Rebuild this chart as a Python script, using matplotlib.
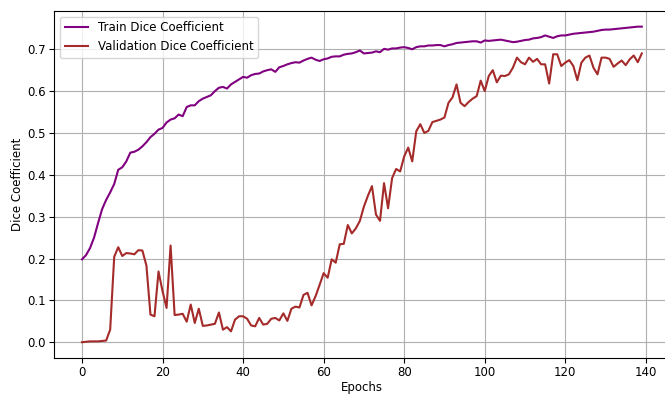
import matplotlib
matplotlib.use("Agg")
import matplotlib.pyplot as plt

epochs = list(range(140))

train_dice = [
    0.198, 0.208, 0.225, 0.250, 0.285, 0.318, 0.340, 0.358, 0.378, 0.412,
    0.418, 0.432, 0.453, 0.455, 0.460, 0.468, 0.478, 0.490, 0.498, 0.508,
    0.512, 0.525, 0.532, 0.535, 0.544, 0.540, 0.562, 0.566, 0.566, 0.576,
    0.582, 0.586, 0.590, 0.600, 0.608, 0.610, 0.606, 0.616, 0.622, 0.628,
    0.634, 0.632, 0.638, 0.641, 0.642, 0.647, 0.650, 0.652, 0.646, 0.657,
    0.660, 0.664, 0.667, 0.669, 0.668, 0.673, 0.677, 0.680, 0.675, 0.672,
    0.676, 0.678, 0.682, 0.683, 0.683, 0.687, 0.689, 0.690, 0.693, 0.697,
    0.690, 0.691, 0.692, 0.695, 0.693, 0.701, 0.699, 0.702, 0.702, 0.704,
    0.705, 0.703, 0.700, 0.705, 0.707, 0.707, 0.709, 0.709, 0.710, 0.710,
    0.707, 0.710, 0.712, 0.715, 0.716, 0.717, 0.718, 0.719, 0.719, 0.716,
    0.721, 0.720, 0.721, 0.722, 0.723, 0.721, 0.719, 0.717, 0.718, 0.720,
    0.722, 0.723, 0.726, 0.727, 0.729, 0.733, 0.730, 0.727, 0.731, 0.733,
    0.733, 0.735, 0.737, 0.738, 0.739, 0.740, 0.741, 0.742, 0.744, 0.746,
    0.747, 0.747, 0.748, 0.749, 0.750, 0.751, 0.752, 0.753, 0.754, 0.754,
]

val_dice = [
    0.000, 0.001, 0.002, 0.002, 0.002, 0.003, 0.004, 0.030, 0.204, 0.227,
    0.206, 0.213, 0.212, 0.210, 0.220, 0.219, 0.183, 0.066, 0.062, 0.169,
    0.122, 0.082, 0.231, 0.065, 0.066, 0.068, 0.049, 0.090, 0.046, 0.080,
    0.039, 0.040, 0.042, 0.044, 0.071, 0.030, 0.036, 0.026, 0.054, 0.062,
    0.062, 0.056, 0.040, 0.038, 0.058, 0.042, 0.044, 0.056, 0.058, 0.052,
    0.069, 0.051, 0.080, 0.085, 0.083, 0.113, 0.118, 0.088, 0.110, 0.137,
    0.165, 0.154, 0.198, 0.190, 0.234, 0.235, 0.280, 0.260, 0.272, 0.290,
    0.324, 0.350, 0.373, 0.305, 0.290, 0.380, 0.320, 0.392, 0.414, 0.408,
    0.444, 0.465, 0.432, 0.504, 0.521, 0.500, 0.505, 0.526, 0.529, 0.532,
    0.537, 0.572, 0.585, 0.616, 0.572, 0.564, 0.574, 0.582, 0.588, 0.625,
    0.600, 0.636, 0.650, 0.621, 0.637, 0.636, 0.640, 0.656, 0.680, 0.669,
    0.664, 0.680, 0.670, 0.677, 0.664, 0.664, 0.618, 0.688, 0.688, 0.660,
    0.668, 0.674, 0.660, 0.626, 0.668, 0.680, 0.685, 0.656, 0.640, 0.680,
    0.680, 0.677, 0.658, 0.666, 0.673, 0.662, 0.676, 0.685, 0.669, 0.690,
]

fig = plt.figure(figsize=(6.65, 3.94), dpi=100)
ax = fig.add_axes([0.0812, 0.0914, 0.926, 0.881])

ax.plot(epochs, train_dice, color='purple', linewidth=1.5, label='Train Dice Coefficient')
ax.plot(epochs, val_dice, color='brown', linewidth=1.5, label='Validation Dice Coefficient')

ax.set_xlabel('Epochs', fontsize=8.5, labelpad=1)
ax.set_ylabel('Dice Coefficient', fontsize=8.5, labelpad=2)
ax.tick_params(labelsize=8.5, pad=2.5)
ax.legend(loc='upper left', fontsize=8.5)
ax.grid(True)

fig.savefig('out.png', dpi=100)
